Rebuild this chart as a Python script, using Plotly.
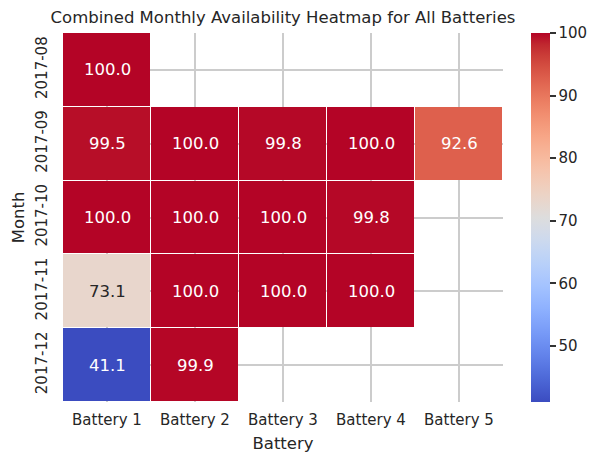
import numpy as np
import plotly.graph_objects as go

months = ["2017-08", "2017-09", "2017-10", "2017-11", "2017-12"]
batteries = ["Battery 1", "Battery 2", "Battery 3", "Battery 4", "Battery 5"]
battery_1 = [100.0, 99.5, 100.0, 73.1, 41.1]
battery_2 = [None, 100.0, 100.0, 100.0, 99.9]
battery_3 = [None, 99.8, 100.0, 100.0, None]
battery_4 = [None, 100.0, 99.8, 100.0, None]
battery_5 = [None, 92.6, None, None, None]
cbar_ticks = [50, 60, 70, 80, 90, 100]

cols = [battery_1, battery_2, battery_3, battery_4, battery_5]
z = [[cols[j][i] for j in range(len(batteries))] for i in range(len(months))]
zf = np.array([[np.nan if v is None else v for v in row] for row in z], dtype=float)
zmin, zmax = 41.05, 100.0

cw = [(59,76,192),(68,90,204),(77,104,215),(87,117,225),(98,130,234),(108,142,241),
      (119,154,247),(130,165,251),(141,176,254),(152,185,255),(163,194,255),(174,201,253),
      (184,208,249),(194,213,244),(204,217,238),(213,219,230),(221,221,221),(229,216,209),
      (236,211,197),(241,204,185),(245,196,173),(247,187,160),(247,177,148),(247,166,135),
      (244,154,123),(241,141,111),(236,127,99),(229,112,88),(222,96,77),(213,80,66),
      (203,62,56),(192,40,47),(180,4,38)]
n = len(cw) - 1
colorscale = [[i / n, "rgb(%d,%d,%d)" % c] for i, c in enumerate(cw)]

def cmap(t):
    t = min(max(t, 0), 1) * n
    i = min(int(t), n - 1)
    f = t - i
    return [(cw[i][k] * (1 - f) + cw[i + 1][k] * f) / 255 for k in range(3)]

def lum(rgb):
    out = []
    for c in rgb:
        out.append(c / 12.92 if c <= 0.03928 else ((c + 0.055) / 1.055) ** 2.4)
    return 0.2126 * out[0] + 0.7152 * out[1] + 0.0722 * out[2]

FONT = "DejaVu Sans"
TXT = "#262626"

fig = go.Figure()
fig.add_trace(go.Heatmap(
    z=zf, x=batteries, y=months, colorscale=colorscale, zmin=zmin, zmax=zmax,
    xgap=1, ygap=1, hoverongaps=False,
    colorbar=dict(
        x=1.0636, xanchor="left", xref="paper", y=0.5, yanchor="middle",
        len=1, lenmode="fraction", thickness=19, thicknessmode="pixels",
        xpad=0, ypad=0, outlinewidth=0,
        tickvals=cbar_ticks, ticks="outside", ticklen=6, tickwidth=1.5,
        tickcolor="#333333", tickfont=dict(family=FONT, size=15, color=TXT),
    ),
))

annotations = []
for i, m in enumerate(months):
    for j, b in enumerate(batteries):
        v = zf[i, j]
        if np.isnan(v):
            continue
        color = TXT if lum(cmap((v - zmin) / (zmax - zmin))) > 0.408 else "white"
        annotations.append(dict(x=j, y=i, xref="x", yref="y", text="%.1f" % v,
                                showarrow=False,
                                font=dict(family=FONT, size=16.5, color=color)))

shapes = []
for k in range(1, len(batteries)):
    shapes.append(dict(type="line", xref="x", yref="paper", x0=k - 0.5, x1=k - 0.5,
                       y0=0, y1=1, line=dict(color="white", width=1.5), layer="between"))
for k in range(1, len(months)):
    shapes.append(dict(type="line", xref="paper", yref="y", x0=0, x1=1,
                       y0=k - 0.5, y1=k - 0.5, line=dict(color="white", width=1.5), layer="between"))

fig.update_layout(
    width=601, height=464,
    margin=dict(l=63, r=98, t=33, b=62, pad=0),
    paper_bgcolor="white", plot_bgcolor="white",
    font=dict(family=FONT, color=TXT),
    title=dict(text="Combined Monthly Availability Heatmap for All Batteries",
               x=0.5, xref="paper", xanchor="center",
               y=1 - 17 / 464, yref="container", yanchor="middle",
               font=dict(family=FONT, size=16.5, color=TXT)),
    annotations=annotations,
    shapes=shapes,
)
fig.update_xaxes(
    type="category", range=[-0.5, len(batteries) - 0.5],
    showgrid=True, gridcolor="#cccccc", gridwidth=1.5, zeroline=False, showline=False,
    ticks="", ticklabelstandoff=7, tickfont=dict(family=FONT, size=15, color=TXT),
    title=dict(text="Battery", standoff=9, font=dict(family=FONT, size=16.5, color=TXT)),
)
fig.update_yaxes(
    type="category", range=[len(months) - 0.5, -0.5],
    showgrid=True, gridcolor="#cccccc", gridwidth=1.5, zeroline=False, showline=False,
    ticks="", tickangle=-90, ticklabelstandoff=12,
    tickfont=dict(family=FONT, size=15, color=TXT),
    title=dict(text="Month", standoff=4, font=dict(family=FONT, size=16.5, color=TXT)),
)

fig.write_html("out.html")
